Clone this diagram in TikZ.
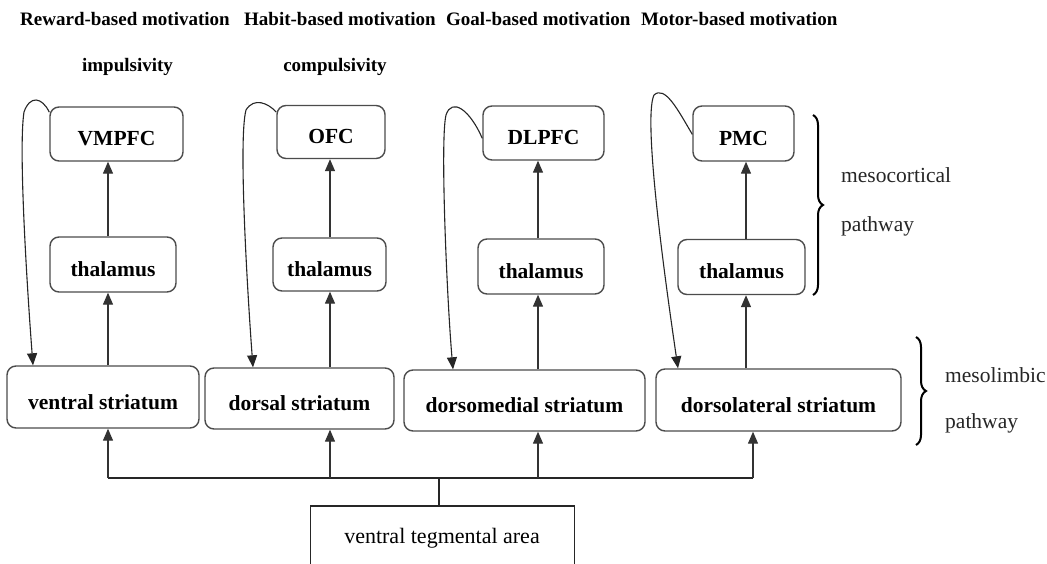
\documentclass[tikz,border=0pt]{standalone}
\usepackage{fontspec}
\setmainfont{Liberation Serif}
\usetikzlibrary{arrows.meta,decorations.pathreplacing,calc}
\begin{document}
\begin{tikzpicture}[x=1pt,y=-1pt,
  rbox/.style={draw=black!70,line width=1.4pt,rounded corners=9pt,inner sep=0pt,
    text height=24pt,text depth=0pt,
    font=\fontsize{21.5}{24}\selectfont\bfseries},
  sbox/.style={draw=black!85,line width=1.3pt,inner sep=0pt,
    font=\fontsize{22}{25}\selectfont},
  toplab/.style={font=\fontsize{19}{22}\selectfont\bfseries,inner sep=0pt},
  sidelab/.style={font=\fontsize{21.5}{24}\selectfont,inner sep=0pt,anchor=west,text=black!85},
  arr/.style={draw=black!80,line width=1.3pt,-{Triangle[width=10pt,length=12pt]}},
  bus/.style={draw=black!85,line width=1.3pt},
  fb/.style={draw=black!85,line width=1.1pt,-{Triangle[width=10pt,length=12pt]}},
  brc/.style={draw=black,line width=2pt,decorate,decoration={brace,amplitude=10pt}}
]
\useasboundingbox (0,0) rectangle (1047,564);
\clip (0,0) rectangle (1047,564);
\fill[white] (0,0) rectangle (1047,564);

% top labels
\node[toplab,anchor=west] (lrew) at (20,19) {Reward-based motivation};
\node[toplab,anchor=west] (lhab) at (244,19) {Habit-based motivation};
\node[toplab,anchor=west] (lgoal) at (446,19) {Goal-based motivation};
\node[toplab,anchor=west] (lmot) at (641,19) {Motor-based motivation};
\node[toplab] (limp) at (127.5,67) {impulsivity};
\node[toplab] (lcomp) at (335,67) {compulsivity};

% cortex
\node[rbox,minimum width=133pt,minimum height=54pt] (vmpfc) at (116.5,134) {VMPFC};
\node[rbox,minimum width=108pt,minimum height=53pt] (ofc) at (331,132) {OFC};
\node[rbox,minimum width=121pt,minimum height=54pt] (dlpfc) at (543.5,133) {DLPFC};
\node[rbox,minimum width=101pt,minimum height=55pt] (pmc) at (743.5,133.5) {PMC};

% thalamus
\node[rbox,minimum width=126pt,minimum height=55pt] (th1) at (113,264.5) {thalamus};
\node[rbox,minimum width=113pt,minimum height=53pt] (th2) at (329.5,264.5) {thalamus};
\node[rbox,minimum width=126pt,minimum height=55pt] (th3) at (541,266.5) {thalamus};
\node[rbox,minimum width=127pt,minimum height=55pt] (th4) at (741.5,267) {thalamus};

% striatum
\node[rbox,minimum width=192pt,minimum height=62pt] (vs) at (103,397) {ventral striatum};
\node[rbox,minimum width=189pt,minimum height=61pt] (ds) at (299.5,398.5) {dorsal striatum};
\node[rbox,minimum width=241pt,minimum height=61pt] (dms) at (524.5,400.5) {dorsomedial striatum};
\node[rbox,minimum width=245pt,minimum height=62pt] (dls) at (778.5,400) {dorsolateral striatum};

% VTA
\node[sbox,minimum width=264pt,minimum height=80pt] (vta) at (442.5,546) {};
\node[font=\fontsize{22}{25}\selectfont,inner sep=0pt] (vtat) at (442,538) {ventral tegmental area};

% vertical arrows
\draw[arr] (th1.north -| 108,0) -- (vmpfc.south -| 108,0);
\draw[arr] (vs.north -| 108,0) -- (th1.south -| 108,0);
\draw[arr] (th2.north -| 330,0) -- (ofc.south -| 330,0);
\draw[arr] (ds.north -| 330,0) -- (th2.south -| 330,0);
\draw[arr] (th3.north -| 538,0) -- (dlpfc.south -| 538,0);
\draw[arr] (dms.north -| 538,0) -- (th3.south -| 538,0);
\draw[arr] (th4.north -| 746,0) -- (pmc.south -| 746,0);
\draw[arr] (dls.north -| 746,0) -- (th4.south -| 746,0);

% bus from VTA
\coordinate (busM) at (439,478);
\coordinate (busL) at (108,478);
\coordinate (busR) at (753,478);
\draw[bus] (vta.north -| busM) -- (busM);
\draw[bus] (busL) -- (busR);
\draw[arr] (busL) -- (vs.south -| busL);
\draw[arr] (busM -| 330,0) -- (ds.south -| 330,0);
\draw[arr] (busM -| 538,0) -- (dms.south -| 538,0);
\draw[arr] (busR) -- (dls.south -| busR);

% feedback loops
\draw[fb] (vmpfc.162) .. controls (42,97) and (30,95) .. (24,112)
  .. controls (18,150) and (28,300) .. (vs.north -| 33,0);
\draw[fb] (ofc.160) .. controls (268,103) and (254,97) .. (246,110)
  .. controls (238,140) and (248,300) .. (ds.north -| 253,0);
\draw[fb] (dlpfc.185) .. controls (470,110) and (452,97) .. (446,115)
  .. controls (440,140) and (447,300) .. (dms.north -| 453,0);
\draw[fb] (pmc.181) .. controls (678,110) and (665,85) .. (654,95)
  .. controls (642,120) and (668,300) .. (dls.north -| 678,0);

% braces
\coordinate (b1t) at (813,115);
\coordinate (b1b) at (813,295);
\coordinate (b2t) at (916,337);
\coordinate (b2b) at (916,445);
\draw[brc] (b1t) -- (b1b);
\draw[brc] (b2t) -- (b2b);
\node[sidelab] (meso1) at (841,175) {mesocortical};
\node[sidelab] (meso2) at (841,226) {pathway};
\node[sidelab] (limb1) at (945,375) {mesolimbic};
\node[sidelab] (limb2) at (945,423) {pathway};
\end{tikzpicture}
\end{document}
